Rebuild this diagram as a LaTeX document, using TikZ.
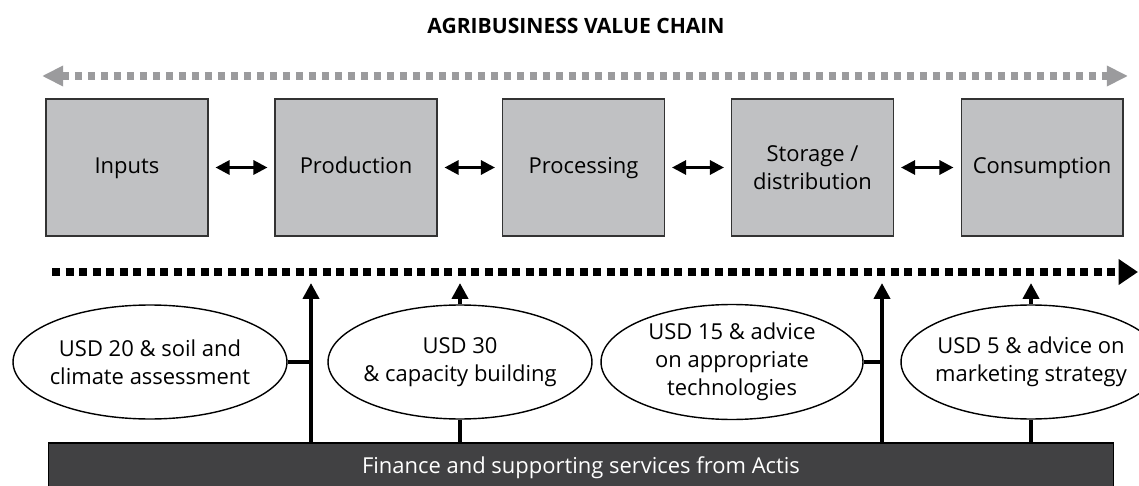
\documentclass[tikz,border=0pt]{standalone}
\usepackage{fontspec}
\setmainfont{Open Sans}
\usetikzlibrary{arrows.meta,shapes.geometric}

\definecolor{chaingray}{RGB}{155,155,157}
\definecolor{boxgray}{RGB}{192,193,195}
\definecolor{bardark}{RGB}{65,65,67}

\begin{document}
\begin{tikzpicture}[x=0.02cm, y=-0.02cm,
        font=\fontsize{12.5}{16}\selectfont,
        stage/.style={rectangle, draw=black!80, line width=0.6pt, fill=boxgray,
            minimum width=3.24cm, minimum height=2.74cm, inner sep=0pt, align=center,
            text height=1.75ex, text depth=0.5ex},
        fund/.style={ellipse, draw, line width=0.8pt, fill=white,
            inner xsep=-20pt, inner ysep=-10pt, minimum height=2.28cm, align=center},
        swap/.style={{Triangle[length=8pt,width=8pt]}-{Triangle[length=8pt,width=8pt]},
            line width=1.7pt, shorten <=4pt, shorten >=4pt},
        feed/.style={-{Triangle[length=9pt,width=9pt]}, line width=2.3pt},
        stub/.style={line width=2.3pt},
        chain/.style={{Triangle[length=12pt,width=11pt]}-{Triangle[length=12pt,width=11pt]},
            chaingray, line width=4pt, dash pattern=on 4pt off 3.4pt},
        flow/.style={-{Triangle[length=11pt,width=14pt]}, line width=4.5pt,
            dash pattern=on 4.6pt off 3.1pt},
        finbar/.style={rectangle, draw=black, line width=0.6pt, fill=bardark, text=white,
            minimum width=21.32cm, minimum height=1cm, inner sep=0pt}
    ]
        \useasboundingbox (0,0) rectangle (1139,486);
        \clip (0,0) rectangle (1139,486);

        \node[font=\fontsize{12}{14}\selectfont\bfseries] (title) at (576,26) {AGRIBUSINESS VALUE CHAIN};

        \coordinate (chainL) at (42,76);
        \coordinate (chainR) at (1128,76);
        \draw[chain] (chainL) -- (chainR);

        \node[stage] (inputs) at (127,167.5) {Inputs};
        \node[stage] (production) at (356,167.5) {Production};
        \node[stage] (processing) at (583.5,167.5) {Processing};
        \node[stage, text height=, text depth=] (storage) at (812.5,167.5) {Storage /\\distribution};
        \node[stage] (consumption) at (1042,167.5) {Consumption};

        \draw[swap] (inputs) -- (production);
        \draw[swap] (production) -- (processing);
        \draw[swap] (processing) -- (storage);
        \draw[swap] (storage) -- (consumption);

        \coordinate (flowL) at (52,272);
        \coordinate (flowR) at (1138,272);
        \draw[flow] (flowL) -- (flowR);

        \node[fund, minimum width=5.48cm] (soil) at (150,362) {USD 20 \& soil and\\climate assessment};
        \node[fund, minimum width=5.28cm] (capacity) at (460,362) {USD 30\\\& capacity building};
        \node[fund, minimum width=5.24cm, minimum height=2.3cm] (tech) at (732,362) {USD 15 \& advice\\on appropriate\\technologies};
        \node[fund, minimum width=5.2cm] (marketing) at (1031,362) {USD 5 \& advice on\\marketing strategy};

        \node[finbar] (bar) at (581,468) {Finance and supporting services from Actis};

        \coordinate (trunkA) at (311,283);
        \coordinate (trunkB) at (882,283);

        \draw[feed] (bar.north -| trunkA) -- (trunkA);
        \draw[stub] (soil.east) -- (soil.east -| trunkA);
        \draw[feed] (bar.north -| trunkB) -- (trunkB);
        \draw[stub] (tech.east) -- (tech.east -| trunkB);

        \draw[feed] (capacity.north) -- (capacity.north |- trunkA);
        \draw[stub] (bar.north -| capacity.south) -- (capacity.south);
        \draw[feed] (marketing.north) -- (marketing.north |- trunkA);
        \draw[stub] (bar.north -| marketing.south) -- (marketing.south);
    \end{tikzpicture}
\end{document}
